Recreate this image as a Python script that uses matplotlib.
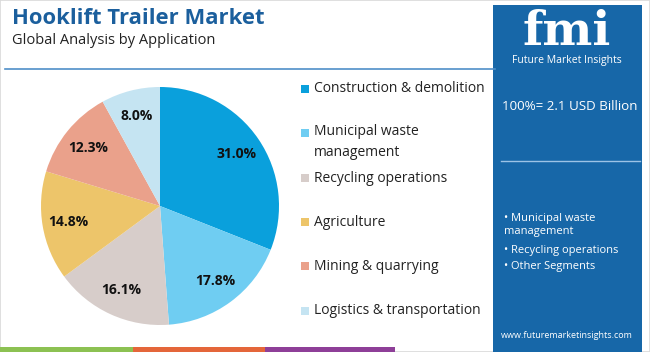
import matplotlib.pyplot as plt
from matplotlib.patches import Rectangle
import numpy as np

# data
segments = ["Construction & demolition", "Municipal waste\nmanagement", "Recycling operations",
            "Agriculture", "Mining & quarrying", "Logistics & transportation"]
shares = [31.0, 17.8, 16.1, 14.8, 12.3, 8.0]
colors = ["#0aa0dc", "#6fcdf2", "#d7cdca", "#edc56a", "#eaa18b", "#c5e4f2"]
bullets = ["• Municipal waste\nmanagement", "• Recycling operations", "• Other Segments"]

W, H = 650, 352
fig = plt.figure(figsize=(6.5, 3.52), dpi=100)
fig.patch.set_facecolor("white")

def fx(px):
    return px / W

def fy(py):
    return 1 - py / H

# outer border
fig.add_artist(Rectangle((0, 0), 1, 1, transform=fig.transFigure, fill=False,
                         edgecolor="#d9d9d9", lw=1.2))

# title block
fig.text(fx(12), fy(18), "Hooklift Trailer Market", fontsize=15.8, fontweight="bold",
         color="#1b5f9d", va="center", family="Open Sans")
fig.text(fx(12), fy(41), "Global Analysis by Application", fontsize=10.5,
         color="#222222", va="center", family="Open Sans")
fig.add_artist(plt.Line2D([fx(5), fx(495)], [fy(69), fy(69)], transform=fig.transFigure,
                          color="#4f8fc8", lw=1.2))

# bottom colour strip
strip = [(0, 133, "#8cc152"), (133, 265, "#e4663a"), (265, 395, "#8e3f98")]
for x0, x1, c in strip:
    fig.add_artist(Rectangle((fx(x0), 0), fx(x1 - x0), fy(347), transform=fig.transFigure,
                             color=c, lw=0))

# right panel
fig.add_artist(Rectangle((fx(493), 0), fx(149), fy(5), transform=fig.transFigure,
                         color="#1767a8", lw=0))
fig.text(fx(567), fy(32), "fmi", fontsize=34, fontweight="bold", color="white",
         ha="center", va="center", family="DejaVu Serif")
fig.text(fx(567), fy(61), "Future Market Insights", fontsize=7.5, color="white",
         ha="center", va="center", family="Open Sans")
fig.text(fx(502), fy(107), "100%= 2.1 USD Billion", fontsize=9.6, color="white",
         va="center", family="Open Sans")
fig.add_artist(plt.Line2D([fx(501), fx(640)], [fy(161), fy(161)], transform=fig.transFigure,
                          color="#9cc3e6", lw=1))
fig.text(fx(504), fy(225), bullets[0], fontsize=8, color="white", va="center",
         family="Open Sans", linespacing=1.35)
fig.text(fx(504), fy(251), bullets[1], fontsize=8, color="white", va="center", family="Open Sans")
fig.text(fx(504), fy(267), bullets[2], fontsize=8, color="white", va="center", family="Open Sans")
fig.text(fx(567), fy(336), "www.futuremarketinsights.com", fontsize=6.5, color="white",
         ha="center", va="center", family="Open Sans")

# pie
cx, cy, r = 160, 206, 119
ax = fig.add_axes([fx(cx - r), fy(cy + r), fx(2 * r), 2 * r / H])
wedges, texts = ax.pie(shares, colors=colors, startangle=90, counterclock=False)
ax.set_xlim(-1, 1)
ax.set_ylim(-1, 1)
ax.axis("off")
cum = 0
for v in shares:
    ang = np.deg2rad(90 - (cum + v / 2) * 3.6)
    cum += v
    ax.text(0.78 * np.cos(ang), 0.78 * np.sin(ang), f"{v:.1f}%", ha="center", va="center",
            fontsize=10, fontweight="bold", color="#111111", family="Open Sans")

# legend
leg_y = [89, 142, 178, 222, 266, 311]
for lab, c, y in zip(segments, colors, leg_y):
    sy = y if "\n" not in lab else 133
    fig.add_artist(Rectangle((fx(301), fy(sy + 4)), fx(8), 8 / H, transform=fig.transFigure,
                             color=c, lw=0))
    fig.text(fx(314), fy(y), lab, fontsize=10, color="#222222", va="center",
             family="Open Sans", linespacing=1.5)

fig.savefig("out.png", dpi=100)
